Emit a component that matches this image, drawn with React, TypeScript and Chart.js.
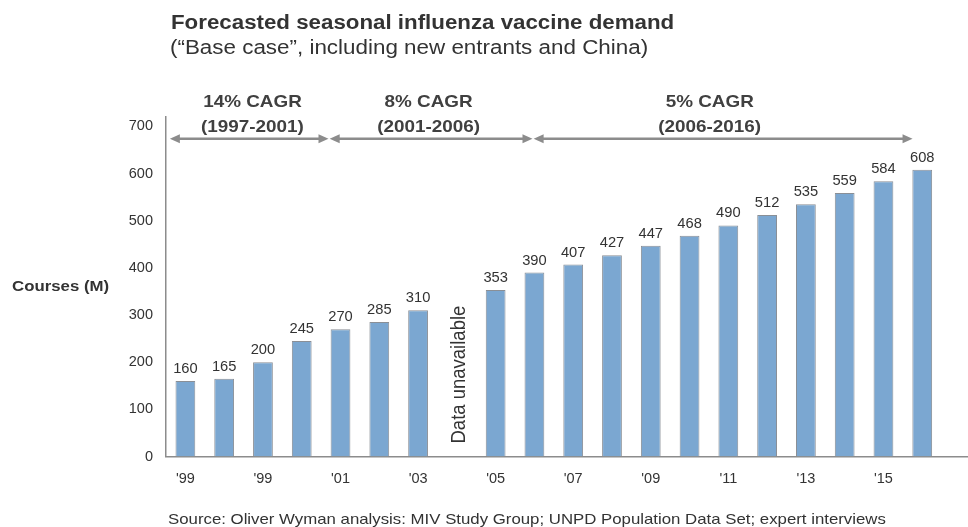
import React, { useEffect, useRef } from "react";
import { Chart, registerables } from "chart.js";

Chart.register(...registerables);

// ---- data ----
const years = [1997, 1998, 1999, 2000, 2001, 2002, 2003, 2004, 2005, 2006, 2007, 2008, 2009, 2010, 2011, 2012, 2013, 2014, 2015, 2016];
const courses: (number | null)[] = [160, 165, 200, 245, 270, 285, 310, null, 353, 390, 407, 427, 447, 468, 490, 512, 535, 559, 584, 608];
const xTickIndex = [0, 2, 4, 6, 8, 10, 12, 14, 16, 18];
const xTickLabels = ["'99", "'99", "'01", "'03", "'05", "'07", "'09", "'11", "'13", "'15"];
const yTicks = [0, 100, 200, 300, 400, 500, 600, 700];
const missingIndex = 7;
const missingLabel = "Data unavailable";

const cagrRates = ["14% CAGR", "8% CAGR", "5% CAGR"];
const cagrPeriods = ["(1997-2001)", "(2001-2006)", "(2006-2016)"];
const cagrArrowStart = [-0.4, 3.72, 8.98];
const cagrArrowEnd = [3.69, 8.95, 18.75];
const cagrLabelPos = [1.73, 6.27, 13.52];
const cagrArrowLevel = 674;

const titleText = "Forecasted seasonal influenza vaccine demand";
const subtitleText = "(\u201cBase case\u201d, including new entrants and China)";
const yAxisTitle = "Courses (M)";
const sourceText = "Source: Oliver Wyman analysis: MIV Study Group; UNPD Population Data Set; expert interviews";

const FONT = "'Liberation Sans', Arial, sans-serif";
const TEXT = "#333333";
const STRETCH = 1.115;

function wideText(ctx: CanvasRenderingContext2D, text: string, x: number, y: number, sx: number) {
  ctx.save();
  ctx.translate(x, y);
  ctx.scale(sx, 1);
  ctx.fillText(text, 0, 0);
  ctx.restore();
}

const annotations = {
  id: "annotations",
  afterDatasetsDraw(chart: any) {
    const { ctx } = chart;
    const meta = chart.getDatasetMeta(0);
    ctx.save();
    ctx.fillStyle = TEXT;
    ctx.font = `14px ${FONT}`;
    ctx.textAlign = "center";
    ctx.textBaseline = "alphabetic";
    meta.data.forEach((bar: any, i: number) => {
      const raw = chart.data.datasets[0].data[i] as any;
      wideText(ctx, String(raw.y), bar.x, bar.y - 8, 1.05);
    });
    ctx.restore();
  },
  afterDraw(chart: any) {
    const { ctx, scales } = chart;
    const x = scales.x;
    const y = scales.y;
    ctx.save();

    // titles
    ctx.fillStyle = TEXT;
    ctx.textAlign = "left";
    ctx.textBaseline = "alphabetic";
    ctx.font = `bold 20px ${FONT}`;
    wideText(ctx, titleText, 171, 29, STRETCH);
    ctx.font = `20px ${FONT}`;
    wideText(ctx, subtitleText, 170, 54, 1.12);

    // y axis title
    ctx.font = `bold 15px ${FONT}`;
    ctx.textBaseline = "middle";
    wideText(ctx, yAxisTitle, 12, 287, 1.12);

    // source
    ctx.font = `15px ${FONT}`;
    ctx.textBaseline = "alphabetic";
    wideText(ctx, sourceText, 168, 524, 1.12);

    // missing data label
    ctx.save();
    ctx.translate(x.getPixelForValue(missingIndex) + 3, y.getPixelForValue(0) - 13);
    ctx.rotate(-Math.PI / 2);
    ctx.scale(1, 1.1);
    ctx.font = `18.5px ${FONT}`;
    ctx.textAlign = "left";
    ctx.textBaseline = "middle";
    ctx.fillText(missingLabel, 0, 0);
    ctx.restore();

    // CAGR arrows
    const ay = y.getPixelForValue(cagrArrowLevel);
    ctx.strokeStyle = "#8c8c8c";
    ctx.fillStyle = "#8c8c8c";
    ctx.lineWidth = 2.5;
    const head = 10;
    const half = 4.5;
    for (let i = 0; i < cagrRates.length; i++) {
      const x1 = x.getPixelForValue(cagrArrowStart[i]);
      const x2 = x.getPixelForValue(cagrArrowEnd[i]);
      ctx.beginPath();
      ctx.moveTo(x1 + head - 1, ay);
      ctx.lineTo(x2 - head + 1, ay);
      ctx.stroke();
      ctx.beginPath();
      ctx.moveTo(x1, ay);
      ctx.lineTo(x1 + head, ay - half);
      ctx.lineTo(x1 + head, ay + half);
      ctx.closePath();
      ctx.fill();
      ctx.beginPath();
      ctx.moveTo(x2, ay);
      ctx.lineTo(x2 - head, ay - half);
      ctx.lineTo(x2 - head, ay + half);
      ctx.closePath();
      ctx.fill();
    }

    ctx.fillStyle = "#404040";
    ctx.font = `bold 17px ${FONT}`;
    ctx.textAlign = "center";
    ctx.textBaseline = "alphabetic";
    for (let i = 0; i < cagrRates.length; i++) {
      const lx = x.getPixelForValue(cagrLabelPos[i]);
      wideText(ctx, cagrRates[i], lx, 107, 1.11);
      wideText(ctx, cagrPeriods[i], lx, 132, 1.11);
    }
    ctx.restore();
  },
};

export default function App() {
  const canvasRef = useRef<HTMLCanvasElement | null>(null);

  useEffect(() => {
    if (!canvasRef.current) return;
    const points = courses
      .map((v, i) => ({ x: i, y: v, year: years[i] }))
      .filter((p) => p.y !== null);

    const chart = new Chart(canvasRef.current, {
      type: "bar",
      data: {
        datasets: [
          {
            label: yAxisTitle,
            data: points as any,
            backgroundColor: "#7ba7d1",
            borderColor: "#8a8f96",
            borderWidth: 1,
            categoryPercentage: 1,
            barPercentage: 0.51,
          },
        ],
      },
      options: {
        animation: false,
        responsive: true,
        maintainAspectRatio: false,
        layout: { padding: { left: 0, right: 0, top: 117, bottom: 0 } },
        plugins: {
          legend: { display: false },
          tooltip: { enabled: false },
          title: { display: false },
        },
        scales: {
          x: {
            type: "linear",
            min: -0.5,
            max: 20.18,
            offset: false,
            grid: { display: false, drawTicks: false },
            border: { display: true, color: "#8c8c8c", width: 1.5 },
            afterFit: (scale: any) => {
              scale.height = 70.5;
            },
            afterBuildTicks: (scale: any) => {
              scale.ticks = xTickIndex.map((v) => ({ value: v }));
            },
            ticks: {
              autoSkip: false,
              maxRotation: 0,
              padding: 14,
              color: TEXT,
              font: { family: FONT, size: 14.5 },
              callback: (_v: any, idx: number) => xTickLabels[idx],
            },
          },
          y: {
            type: "linear",
            min: 0,
            max: 720,
            grid: { display: false, drawTicks: false },
            border: { display: true, color: "#8c8c8c", width: 1.5 },
            afterFit: (scale: any) => {
              scale.width = 166;
            },
            afterBuildTicks: (scale: any) => {
              scale.ticks = yTicks.map((v) => ({ value: v }));
            },
            ticks: {
              padding: 13,
              color: TEXT,
              font: { family: FONT, size: 14.5 },
            },
          },
        },
      },
      plugins: [annotations],
    });
    return () => chart.destroy();
  }, []);

  return (
    <div style={{ position: "absolute", left: 0, top: 0, width: 968, height: 527, background: "#fff" }}>
      <canvas ref={canvasRef} />
    </div>
  );
}
